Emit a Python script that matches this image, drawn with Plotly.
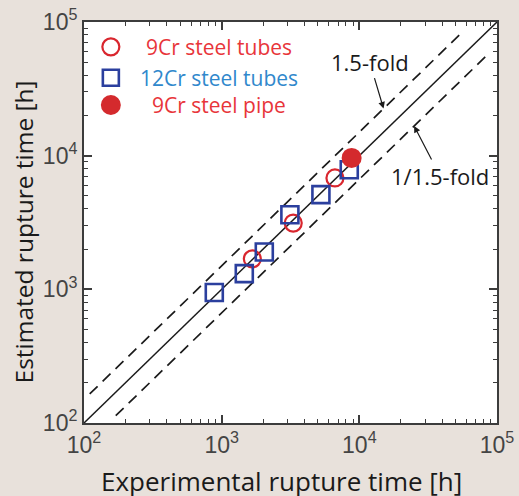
import plotly.graph_objects as go

# Data
cr9_tube_exp = [1670, 3310, 6650]
cr9_tube_est = [1690, 3130, 6810]
cr12_tube_exp = [884, 1460, 2040, 3130, 5260, 8450]
cr12_tube_est = [947, 1310, 1900, 3610, 5110, 7850]
cr9_pipe_exp = [8790]
cr9_pipe_est = [9620]

line_x = [100, 100000]
upper_x = [110, 56000]
lower_x = [170, 85000]

legend_names = ["9Cr steel tubes", "12Cr steel tubes", "9Cr steel pipe"]
tick_vals = [100, 1000, 10000, 100000]
tick_text = ["10<sup>2</sup>", "10<sup>3</sup>", "10<sup>4</sup>", "10<sup>5</sup>"]

RED_LINE = "#d9262e"
RED_FILL = "#d42a2d"
BLUE_LINE = "#2b3f9e"
RED_TXT = "#e8353a"
BLUE_TXT = "#3088cc"
BG = "#e8e1db"
AX = "#3c3c3c"
FONT = "Open Sans"

fig = go.Figure()

dash = "11px,7px"
fig.add_trace(go.Scatter(x=line_x, y=line_x, mode="lines",
                         line=dict(color="#1a1a1a", width=1.5), showlegend=False))
fig.add_trace(go.Scatter(x=upper_x, y=[v * 1.5 for v in upper_x], mode="lines",
                         line=dict(color="#1a1a1a", width=1.7, dash=dash), showlegend=False))
fig.add_trace(go.Scatter(x=lower_x, y=[v / 1.5 for v in lower_x], mode="lines",
                         line=dict(color="#1a1a1a", width=1.7, dash=dash), showlegend=False))

fig.add_trace(go.Scatter(x=cr9_tube_exp, y=cr9_tube_est, mode="markers",
                         marker=dict(symbol="circle-open", size=17, color=RED_LINE,
                                     line=dict(width=2.2, color=RED_LINE)), showlegend=False))
fig.add_trace(go.Scatter(x=cr12_tube_exp, y=cr12_tube_est, mode="markers",
                         marker=dict(symbol="square-open", size=17, color=BLUE_LINE,
                                     line=dict(width=2.6, color=BLUE_LINE)), showlegend=False))
fig.add_trace(go.Scatter(x=cr9_pipe_exp, y=cr9_pipe_est, mode="markers",
                         marker=dict(symbol="circle", size=20, color=RED_FILL,
                                     line=dict(width=0)), showlegend=False))

# Manual legend symbols on an overlay axis (0..1 frame)
leg_y = [0.938, 0.861, 0.793]
fig.add_trace(go.Scatter(x=[0.065], y=[leg_y[0]], xaxis="x2", yaxis="y2", mode="markers",
                         marker=dict(symbol="circle-open", size=17, color=RED_LINE,
                                     line=dict(width=2.2, color=RED_LINE)), showlegend=False))
fig.add_trace(go.Scatter(x=[0.065], y=[leg_y[1]], xaxis="x2", yaxis="y2", mode="markers",
                         marker=dict(symbol="square-open", size=16, color=BLUE_LINE,
                                     line=dict(width=2.6, color=BLUE_LINE)), showlegend=False))
fig.add_trace(go.Scatter(x=[0.065], y=[leg_y[2]], xaxis="x2", yaxis="y2", mode="markers",
                         marker=dict(symbol="circle", size=20, color=RED_FILL), showlegend=False))

annotations = []
leg_colors = [RED_TXT, BLUE_TXT, RED_TXT]
for name, yy, col in zip(legend_names, leg_y, leg_colors):
    annotations.append(dict(xref="paper", yref="paper", x=0.326, y=yy, text=name,
                            showarrow=False, xanchor="center", yanchor="middle",
                            font=dict(family=FONT, size=21, color=col)))

annotations.append(dict(x=4.176, y=4.352, xref="x", yref="y", text="1.5-fold",
                        showarrow=True, ax=-14, ay=-47, arrowhead=2, arrowsize=1.1,
                        arrowwidth=1.2, arrowcolor="#1a1a1a",
                        font=dict(family=FONT, size=22, color="#1a1a1a")))
annotations.append(dict(x=4.398, y=4.222, xref="x", yref="y", text="1/1.5-fold",
                        showarrow=True, ax=26, ay=50, arrowhead=2, arrowsize=1.1,
                        arrowwidth=1.2, arrowcolor="#1a1a1a",
                        font=dict(family=FONT, size=22, color="#1a1a1a")))

# Axis titles as annotations for precise placement
annotations.append(dict(xref="paper", yref="paper", x=0.479, y=-0.145,
                        text="Experimental rupture time [h]", showarrow=False,
                        xanchor="center", yanchor="middle", borderpad=0,
                        font=dict(family=FONT, size=26, color="#1a1a1a")))
annotations.append(dict(xref="paper", yref="paper", x=-0.1477, y=0.4776,
                        text="Estimated rupture time [h]", showarrow=False, textangle=-90,
                        xanchor="center", yanchor="middle", borderpad=0,
                        font=dict(family=FONT, size=24.5, color="#1a1a1a")))

minor_vals = [m * 10 ** e for e in range(2, 5) for m in range(2, 10)]

axis_common = dict(
    type="log", range=[2, 5], tickmode="array", tickvals=tick_vals, ticktext=tick_text,
    ticks="inside", ticklen=8, tickwidth=1.5, tickcolor=AX,
    minor=dict(ticks="inside", ticklen=4, tickwidth=1.2, tickcolor=AX,
               tickmode="array", tickvals=minor_vals, showgrid=False),
    showline=True, linecolor=AX, linewidth=2, mirror="allticks",
    showgrid=False, zeroline=False, automargin=False,
    tickfont=dict(family="Liberation Sans", size=23, color="#444444"),
)

fig.update_layout(
    width=519, height=496,
    margin=dict(l=84, r=22, t=22, b=73),
    paper_bgcolor=BG, plot_bgcolor="white",
    xaxis=dict(**axis_common),
    yaxis=dict(**axis_common),
    xaxis2=dict(overlaying="x", range=[0, 1], visible=False),
    yaxis2=dict(overlaying="y", range=[0, 1], visible=False),
    annotations=annotations,
    showlegend=False,
)

fig.write_html(
    "out.html",
    config={"displayModeBar": False},
    post_script="document.body.style.margin='0';document.body.style.overflow='hidden';"
                "document.body.style.background='" + BG + "';",
)
